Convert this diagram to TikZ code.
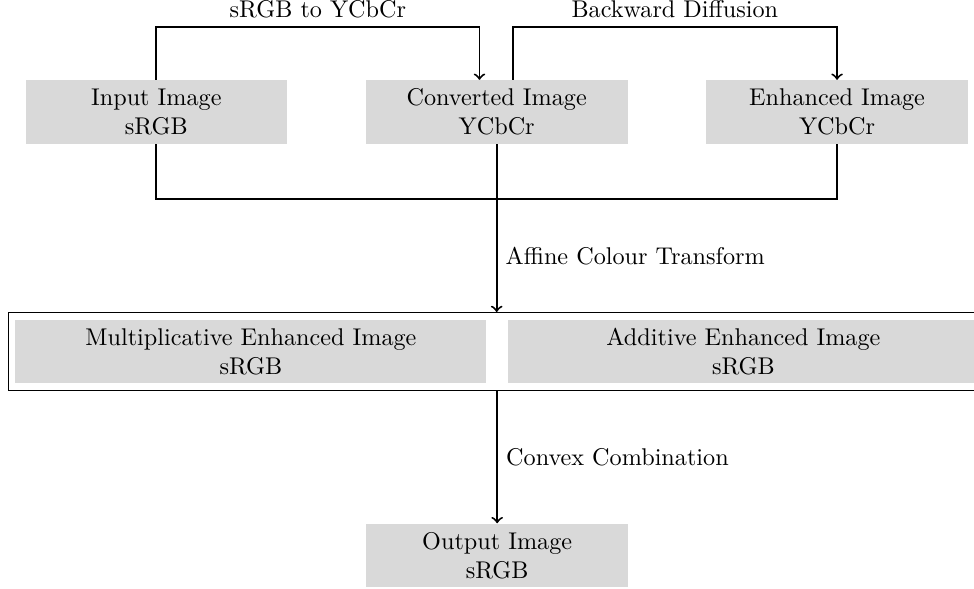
\documentclass[tikz,border=0pt]{standalone}
\usepackage{amsmath}
\usepackage{tikz}
\usetikzlibrary{fit,positioning}

\begin{document}
\begin{tikzpicture}[auto]
	\tikzstyle{main}=[rectangle, fill=black!15, align=center, minimum width=3.8cm, minimum height=9.2mm, inner sep=1mm, node distance = 11.3mm]
	\tikzstyle{wide}=[main, minimum width=6.84cm, node distance = 3mm]
	\tikzstyle{connect}=[->, thick]
	\tikzstyle{line}=[thick]
	
	\useasboundingbox (-7.215, 1.627) rectangle (6.933, -6.928);
	
	\node[main] (conv) {Converted Image\\YCbCr};
	\node[main] (in) [left=of conv] {Input Image\\sRGB};
	\node[main] (enh) [right=of conv] {Enhanced Image\\YCbCr};
	
	\node[wide] at (-3.57, -3.48) (mult) {Multiplicative Enhanced Image\\sRGB};
	\node[wide] (add) [right=of mult] {Additive Enhanced Image\\sRGB};
	\node[rectangle, inner sep=1mm, draw=black!100, fit= (mult) (add)] (both) {};
	
	\node[main, node distance = 19.2mm] (out) [below=of both] {Output Image\\sRGB};
	
	% conversion and diffusion along the top
	\draw[connect] (in.north) -- ++(0,0.77) -| node[pos=0.25] {sRGB to YCbCr} ([xshift=-2.5mm]conv.north);
	\draw[connect] ([xshift=2.3mm]conv.north) -- ++(0,0.77) -| node[pos=0.25] {Backward Diffusion} (enh.north);
	
	% all three images feed the colour transform
	\draw[line] (in.south) -- ++(0,-0.8) -| (enh.south);
	\draw[line] (conv.south) -- ++(0,-0.8) coordinate (merge);
	
	\path (merge) edge [connect] node {Affine Colour Transform} (merge |- both.north)
	(both) edge [connect] node {Convex Combination} (out);
	
\end{tikzpicture}
\end{document}
